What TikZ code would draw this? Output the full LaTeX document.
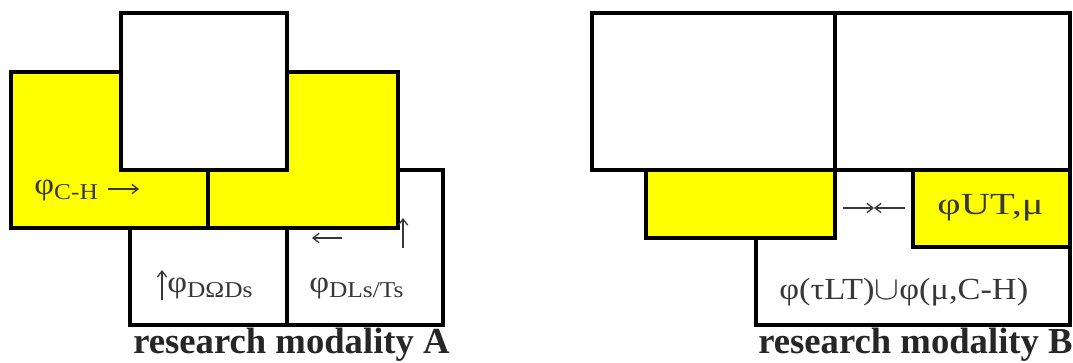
\documentclass[tikz,border=0pt]{standalone}
\usepackage{fontspec}
\setmainfont{Liberation Serif}
\usetikzlibrary{arrows.meta}
\definecolor{fillyel}{RGB}{255,255,0}
\newcommand{\sbs}[1]{\raisebox{-0.35ex}{\fontsize{17}{17}\selectfont #1}}
\tikzset{
  box/.style={draw=black, line width=2.6pt, fill=white},
  ybox/.style={draw=black, line width=2.6pt, fill=fillyel},
  divl/.style={draw=black, line width=2.6pt},
  lbl/.style={inner sep=0pt, font=\fontsize{23}{23}\selectfont, text=black!78, xscale=1.12},
  ttl/.style={inner sep=0pt, font=\fontsize{27.5}{27.5}\selectfont\bfseries, text=black!85},
  arr/.style={line width=1pt, -{Straight Barb[length=4.5pt,width=7pt]}, black!78},
}
\begin{document}
\begin{tikzpicture}[x=0.75pt,y=-0.75pt]
\useasboundingbox (0,0) rectangle (1073,362);
% ---------- modality A ----------
\draw[box] (130,170) rectangle (443,325);
\draw[divl] (287,228) -- (287,325);
\draw[ybox] (11,72) rectangle (398,228);
\draw[divl] (208,170) -- (208,228);
\draw[box] (121,13) rectangle (287,170);
\node[lbl, anchor=west] (ch) at (34,191) {φ\sbs{C-H}};
\coordinate (cha) at (108,189);
\coordinate (chb) at (139,189);
\draw[arr] (cha) -- (chb);
\coordinate (d1a) at (162,300);
\coordinate (d1b) at (162,270);
\draw[arr] (d1a) -- (d1b);
\node[lbl, anchor=west] (dod) at (167,289) {φ\sbs{DΩDs}};
\coordinate (l1a) at (342,238);
\coordinate (l1b) at (312,238);
\draw[arr] (l1a) -- (l1b);
\coordinate (u1a) at (403,248);
\coordinate (u1b) at (403,218);
\draw[arr] (u1a) -- (u1b);
\node[lbl, anchor=west] (dls) at (309,289) {φ\sbs{DLs/Ts}};
\node[ttl, anchor=west] (ta) at (133,345) {research modality A};
% ---------- modality B ----------
\draw[box] (756,170) rectangle (1070,325);
\draw[box] (592,13) rectangle (835,170);
\draw[box] (835,13) rectangle (1070,170);
\draw[ybox] (646,170) rectangle (835,238);
\draw[ybox] (913,170) rectangle (1070,247);
\coordinate (ra) at (843,208);
\coordinate (rb) at (874,208);
\coordinate (lb) at (874,208);
\coordinate (la) at (905,208);
\draw[arr] (ra) -- (rb);
\draw[arr] (la) -- (lb);
\node[lbl, anchor=west, xscale=1.18] (ut) at (937,208) {φUT,μ};
\node[lbl, anchor=west] (un) at (779,292) {φ(τLT)$\cup$φ(μ,C-H)};
\node[ttl, anchor=west] (tb) at (758,345) {research modality B};
\end{tikzpicture}
\end{document}
